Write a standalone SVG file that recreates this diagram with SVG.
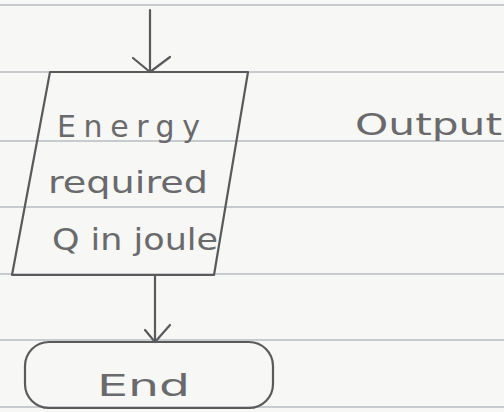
<svg xmlns="http://www.w3.org/2000/svg" width="504" height="412" viewBox="0 0 504 412">
  <style>
    .rule { stroke: #b9bcc0; stroke-width: 1.5; }
    .ink { fill: none; stroke: #5a5a5c; stroke-width: 2.2; stroke-linecap: round; stroke-linejoin: round; }
    .hand { font-family: "DejaVu Sans", "Liberation Sans", sans-serif; fill: #6a6a6c; font-size: 30px; }
  </style>
  <rect width="504" height="412" fill="#f7f7f5"/>
  <!-- ruled paper -->
  <g id="paper">
    <line class="rule" x1="0" y1="5" x2="504" y2="5"/>
    <line class="rule" x1="0" y1="72" x2="504" y2="72"/>
    <line class="rule" x1="0" y1="141" x2="504" y2="141"/>
    <line class="rule" x1="0" y1="207" x2="504" y2="207"/>
    <line class="rule" x1="0" y1="274" x2="504" y2="274"/>
    <line class="rule" x1="0" y1="340" x2="504" y2="340"/>
    <line class="rule" x1="0" y1="407" x2="504" y2="407"/>
  </g>
  <!-- connectors -->
  <g id="connectors">
    <path class="ink" d="M150 10 L150 72"/>
    <path class="ink" d="M133 58 L150 72 L170 57"/>
    <path class="ink" d="M155 275 L155 342"/>
    <path class="ink" d="M145 330 L155 342 L170 325"/>
  </g>
  <!-- output node -->
  <g id="output-node">
    <path class="ink" d="M50 72 L248 72 L214 275 L12 275 Z"/>
    <text class="hand" x="57" y="137" textLength="143" lengthAdjust="spacing">Energy</text>
    <text class="hand" x="48" y="193" textLength="160" lengthAdjust="spacingAndGlyphs">required</text>
    <text class="hand" x="52" y="250" textLength="166" lengthAdjust="spacingAndGlyphs">Q in joule</text>
  </g>
  <g id="output-label">
    <text class="hand" x="355" y="135" textLength="147" lengthAdjust="spacingAndGlyphs">Output</text>
  </g>
  <!-- end terminal -->
  <g id="end-node">
    <rect class="ink" x="25" y="342" width="248" height="66" rx="24"/>
    <text class="hand" x="97" y="396" font-size="40" textLength="93" lengthAdjust="spacingAndGlyphs">End</text>
  </g>
</svg>
